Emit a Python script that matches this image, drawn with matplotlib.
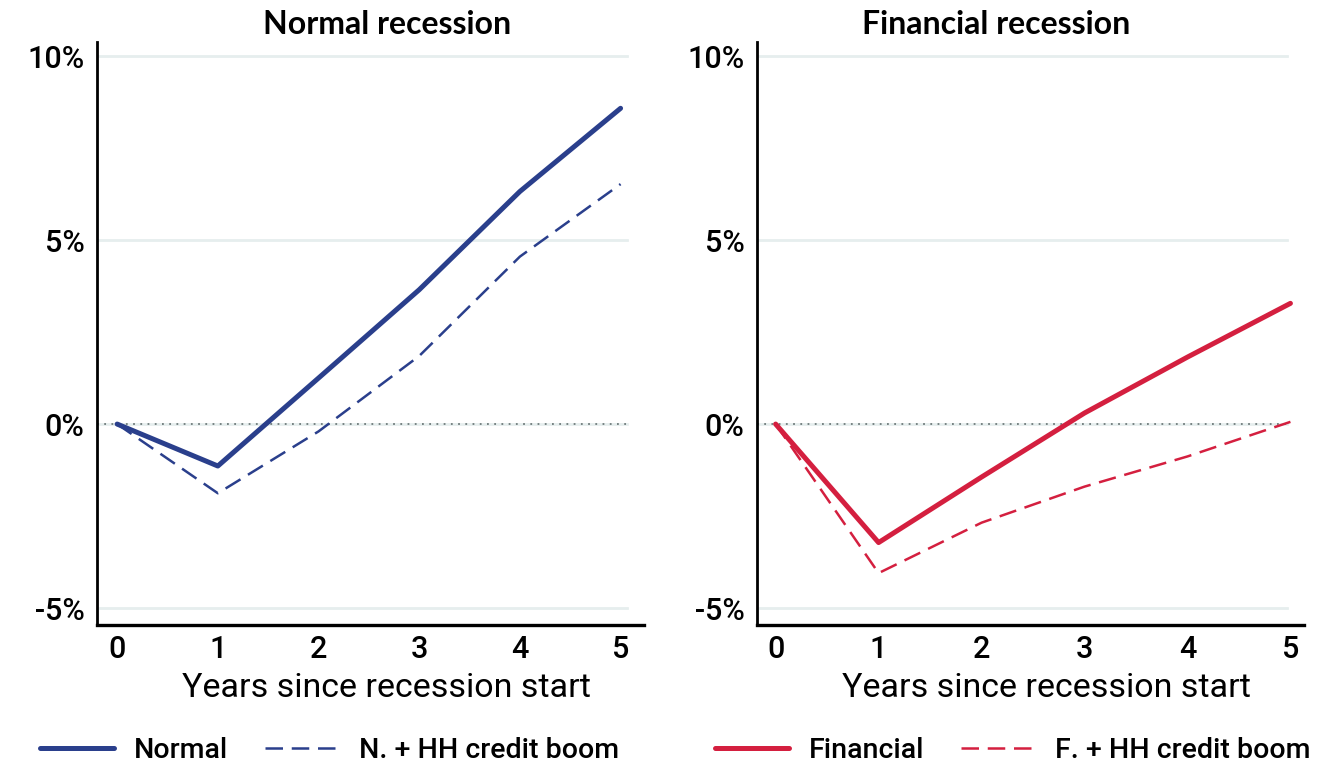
import numpy as np
import matplotlib.pyplot as plt

# %%
years = [0, 1, 2, 3, 4, 5]
normal = [0, -1.14, 1.25, 3.65, 6.32, 8.58]
normal_boom = [0, -1.88, -0.2, 1.85, 4.55, 6.52]
financial = [0, -3.22, -1.44, 0.3, 1.82, 3.28]
financial_boom = [0, -4.05, -2.68, -1.7, -0.88, 0.06]

yticks = [-5, 0, 5, 10]
ytick_labels = ["-5%", "0%", "5%", "10%"]
titles = ["Normal recession", "Financial recession"]
xlabel = "Years since recession start"
labels_left = ["Normal", "N. + HH credit boom"]
labels_right = ["Financial", "F. + HH credit boom"]

blue = "#2a3f8c"
red = "#d41f3f"
grid_col = "#e6eeee"

plt.rcParams["font.family"] = ["Roboto", "DejaVu Sans"]
plt.rcParams["font.weight"] = "medium"

# %%
fig = plt.figure(figsize=(13.4, 7.62), dpi=100)
ax1 = fig.add_axes([0.0724, 0.1798, 0.408, 0.765])
ax2 = fig.add_axes([0.565, 0.1798, 0.408, 0.765])


def style_panel(ax, title, title_x, xlim, leg_x, labels, color, solid, dashed):
    for t in yticks:
        ax.axhline(t, color=grid_col, lw=2, xmax=0.97, zorder=0)
    ax.axhline(0, color="#6e7a7a", lw=1.3, ls=(0, (1, 3)), xmax=0.97, zorder=1)
    l1, = ax.plot(years, solid, color=color, lw=3.6, solid_capstyle="round", zorder=3)
    l2, = ax.plot(years, dashed, color=color, lw=1.8, ls=(0, (7, 3.5)), zorder=2)
    ax.set_xlim(*xlim)
    ax.set_ylim(-5.46, 10.38)
    ax.set_yticks(yticks)
    ax.set_yticklabels(ytick_labels)
    ax.set_xticks(years)
    ax.tick_params(length=0, labelsize=22, pad=7, colors="black")
    ax.tick_params(axis="y", pad=9)
    ax.spines["right"].set_visible(False)
    ax.spines["top"].set_visible(False)
    ax.spines["left"].set_linewidth(2)
    ax.spines["bottom"].set_linewidth(2.4)
    ax.set_xlabel(xlabel, fontsize=24.5, labelpad=6, x=0.53)
    ax.set_title(title, fontsize=23, fontweight="bold", family=["Lato", "DejaVu Sans"],
                 pad=6, x=title_x)
    ax.legend([l1, l2], labels, loc="center", bbox_to_anchor=(leg_x, -0.215),
              ncol=2, frameon=False, fontsize=20.5, handlelength=2.6,
              columnspacing=1.3, handletextpad=0.7)


style_panel(ax1, titles[0], 0.53, (-0.2, 5.23), 0.425, labels_left, blue, normal, normal_boom)
style_panel(ax2, titles[1], 0.437, (-0.18, 5.13), 0.468, labels_right, red, financial, financial_boom)

fig.savefig("out.png", dpi=100)
